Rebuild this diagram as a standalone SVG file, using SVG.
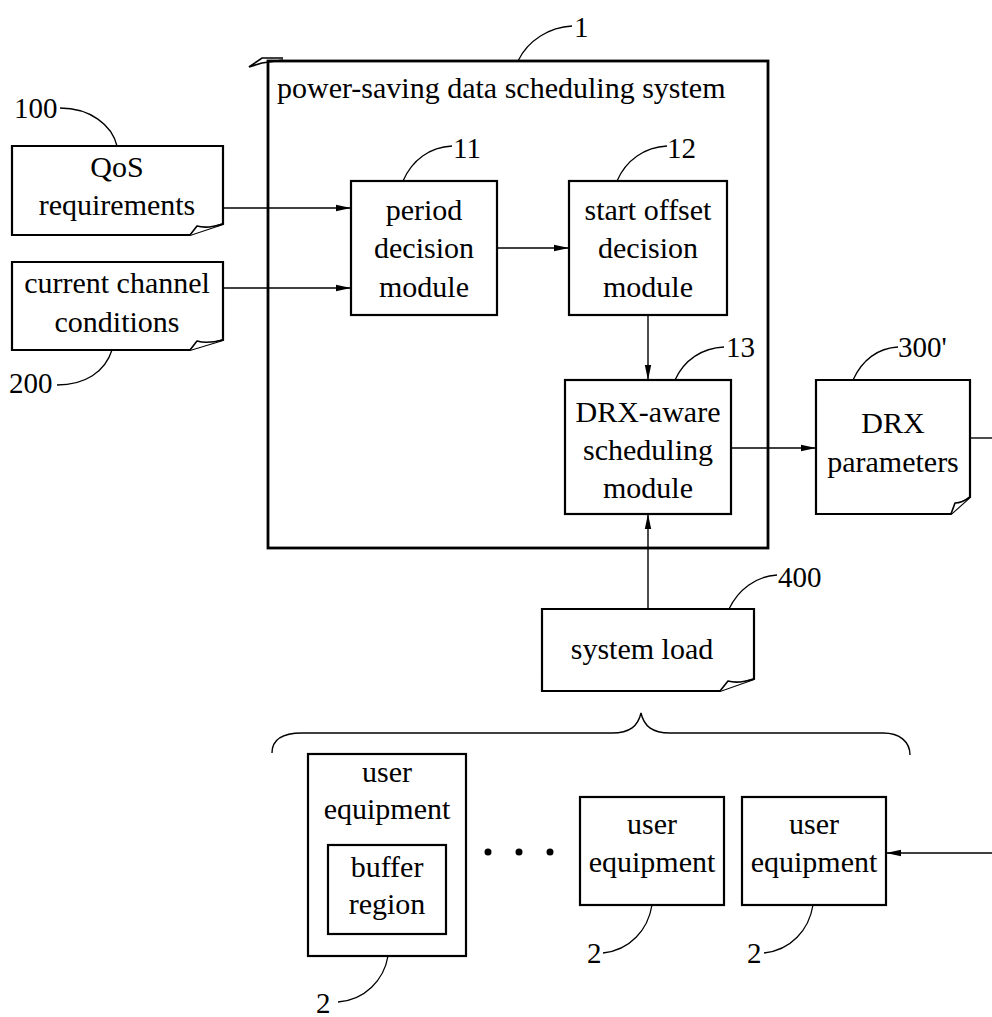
<svg xmlns="http://www.w3.org/2000/svg" width="992" height="1017" viewBox="0 0 992 1017">
<defs>
<style>
text{font-size:30px;fill:#000;text-anchor:middle}
text.num{text-anchor:start;font-size:29px}
.box{fill:#fff;stroke:#000;stroke-width:2.2}
.outer{fill:none;stroke:#000;stroke-width:2.8}
.conn{fill:none;stroke:#000;stroke-width:1.4}
.lead{fill:none;stroke:#000;stroke-width:1.3}
.fold{fill:#fff;stroke:#000;stroke-width:1.6;stroke-linejoin:round}
</style>
<marker id="arr" markerUnits="userSpaceOnUse" markerWidth="16" markerHeight="8" refX="15" refY="4" orient="auto">
<path d="M0,0.8 L15,4 L0,7.2 Z" fill="#000"/>
</marker>
</defs>
<rect width="992" height="1017" fill="#fff"/>
<g font-family="Liberation Serif, Times New Roman, DejaVu Serif, serif">

<g id="system1">
<rect class="outer" x="268" y="61" width="500" height="487"/>
<path d="M283,58 L262,58 L249,67 L262,63 L283,60" fill="none" stroke="#000" stroke-width="1.6"/>
<text x="277" y="98" style="text-anchor:start">power-saving data scheduling system</text>
<path class="lead" d="M518,61 C528,40 550,27 572,26"/>
<text class="num" x="574" y="37">1</text>
</g>

<g id="qos">
<path class="box" d="M12,146 H223 V224 L190,235 H12 Z"/>
<path class="fold" d="M190,235 L197,226 Q207,229 223,224"/>
<text x="117" y="177">QoS</text>
<text x="117" y="215">requirements</text>
<path class="lead" d="M60,108 C90,108 112,125 117,146"/>
<text class="num" x="14" y="118">100</text>
</g>

<g id="channel">
<path class="box" d="M12,262 H223 V340 L190,350 H12 Z"/>
<path class="fold" d="M190,350 L197,341 Q207,344 223,340"/>
<text x="117" y="293">current channel</text>
<text x="117" y="332">conditions</text>
<path class="lead" d="M112,350 C105,372 85,385 57,385"/>
<text class="num" x="9" y="393">200</text>
</g>

<g id="period">
<rect class="box" x="351" y="181" width="146" height="134"/>
<text x="424" y="220">period</text>
<text x="424" y="258">decision</text>
<text x="424" y="297">module</text>
<path class="lead" d="M403,181 C412,160 430,147 452,146"/>
<text class="num" x="453" y="158">11</text>
</g>

<g id="startoffset">
<rect class="box" x="569" y="181" width="158" height="134"/>
<text x="648" y="220">start offset</text>
<text x="648" y="258">decision</text>
<text x="648" y="297">module</text>
<path class="lead" d="M617,181 C626,160 645,147 667,146"/>
<text class="num" x="667" y="158">12</text>
</g>

<g id="drxaware">
<rect class="box" x="565" y="380" width="166" height="134"/>
<text x="648" y="422">DRX-aware</text>
<text x="648" y="460">scheduling</text>
<text x="648" y="498">module</text>
<path class="lead" d="M675,380 C684,360 702,348 724,347"/>
<text class="num" x="726" y="357">13</text>
</g>

<g id="drxparams">
<path class="box" d="M816,380 H970 V497 L951,514 H816 Z"/>
<path class="fold" d="M951,514 L955,503 Q962,503 970,497"/>
<text x="893" y="433">DRX</text>
<text x="893" y="472">parameters</text>
<path class="lead" d="M853,380 C862,360 878,348 898,347"/>
<text class="num" x="898" y="357">300'</text>
</g>

<g id="systemload">
<path class="box" d="M542,609 H754 V679 L720,691 H542 Z"/>
<path class="fold" d="M720,691 L728,681 Q738,684 754,679"/>
<text x="642" y="659">system load</text>
<path class="lead" d="M729,609 C738,590 756,576 777,575"/>
<text class="num" x="778" y="587">400</text>
</g>

<g id="ue1">
<rect class="box" x="308" y="754" width="158" height="202"/>
<rect class="box" x="328" y="845" width="118" height="89"/>
<text x="387" y="782">user</text>
<text x="387" y="819">equipment</text>
<text x="387" y="877">buffer</text>
<text x="387" y="914">region</text>
<path class="lead" d="M388,956 C384,980 365,1000 338,1002"/>
<text class="num" x="316" y="1013">2</text>
</g>

<g id="dots">
<circle cx="488" cy="852" r="3.5" fill="#000"/>
<circle cx="519" cy="852" r="3.5" fill="#000"/>
<circle cx="550" cy="852" r="3.5" fill="#000"/>
</g>

<g id="ue2">
<rect class="box" x="580" y="797" width="144" height="108"/>
<text x="652" y="834">user</text>
<text x="652" y="872">equipment</text>
<path class="lead" d="M652,905 C648,930 630,950 603,953"/>
<text class="num" x="587" y="963">2</text>
</g>

<g id="ue3">
<rect class="box" x="742" y="797" width="144" height="108"/>
<text x="814" y="834">user</text>
<text x="814" y="872">equipment</text>
<path class="lead" d="M813,905 C809,930 791,950 764,953"/>
<text class="num" x="747" y="963">2</text>
</g>

<g id="connectors">
<line class="conn" x1="223" y1="208" x2="351" y2="208" marker-end="url(#arr)"/>
<line class="conn" x1="223" y1="288" x2="351" y2="288" marker-end="url(#arr)"/>
<line class="conn" x1="497" y1="248" x2="569" y2="248" marker-end="url(#arr)"/>
<line class="conn" x1="648" y1="315" x2="648" y2="380" marker-end="url(#arr)"/>
<line class="conn" x1="731" y1="448" x2="816" y2="448" marker-end="url(#arr)"/>
<line class="conn" x1="970" y1="438" x2="995" y2="438"/>
<line class="conn" x1="648" y1="609" x2="648" y2="514" marker-end="url(#arr)"/>
<line class="conn" x1="995" y1="853" x2="886" y2="853" marker-end="url(#arr)"/>
<path class="conn" stroke-width="2" d="M272,753 C272,740 282,733 302,733 L612,733 C630,733 638,726 641,713 C644,726 652,733 670,733 L883,733 C900,733 910,742 910,755"/>
</g>
</g>
</svg>
